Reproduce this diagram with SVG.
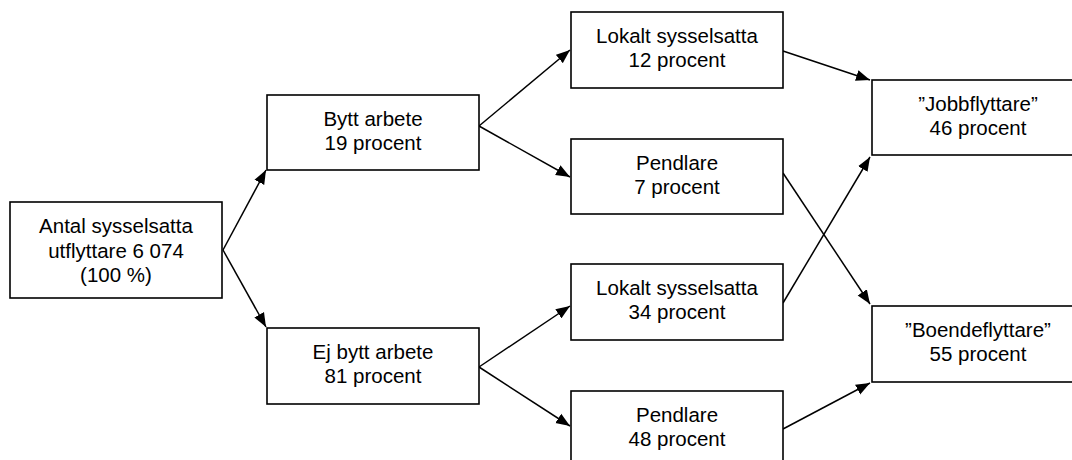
<svg xmlns="http://www.w3.org/2000/svg" width="1072" height="460" viewBox="0 0 1072 460">
<style>
.box{fill:#fff;stroke:#000;stroke-width:1.6}
.t{font-family:"Liberation Sans",Arial,sans-serif;font-size:20.5px;fill:#000;text-anchor:middle}
.c{stroke:#000;stroke-width:1.5;fill:none;marker-end:url(#ah)}
</style>
<defs>
<marker id="ah" markerUnits="userSpaceOnUse" markerWidth="15" markerHeight="12" refX="14" refY="6" orient="auto">
<path d="M0,0.5 L14,6 L0,11.5 z" fill="#000"/>
</marker>
</defs>
<rect width="1072" height="460" fill="#fff"/>
<g id="connectors">
<line class="c" x1="223" y1="250" x2="266" y2="170"/>
<line class="c" x1="223" y1="250" x2="266" y2="327"/>
<line class="c" x1="479" y1="126" x2="570" y2="50"/>
<line class="c" x1="479" y1="126" x2="570" y2="177"/>
<line class="c" x1="479" y1="367" x2="570" y2="306"/>
<line class="c" x1="479" y1="367" x2="570" y2="426"/>
<line class="c" x1="783" y1="51" x2="870" y2="80"/>
<line class="c" x1="783" y1="173" x2="870" y2="304"/>
<line class="c" x1="783" y1="303" x2="870" y2="157"/>
<line class="c" x1="783" y1="429" x2="870" y2="383"/>
</g>
<g id="n_total">
<rect class="box" x="10" y="202" width="212" height="96"/>
<text class="t" x="116" y="233">Antal sysselsatta</text>
<text class="t" x="116" y="257.5">utflyttare 6 074</text>
<text class="t" x="116" y="282">(100 %)</text>
</g>
<g id="n_bytt">
<rect class="box" x="267" y="95" width="212" height="75"/>
<text class="t" x="373" y="125.5">Bytt arbete</text>
<text class="t" x="373" y="150">19 procent</text>
</g>
<g id="n_ejbytt">
<rect class="box" x="267" y="328" width="212" height="76"/>
<text class="t" x="373" y="358.5">Ej bytt arbete</text>
<text class="t" x="373" y="383">81 procent</text>
</g>
<g id="n_lokalt12">
<rect class="box" x="571" y="12" width="212" height="76"/>
<text class="t" x="677" y="42.5">Lokalt sysselsatta</text>
<text class="t" x="677" y="67">12 procent</text>
</g>
<g id="n_pendlare7">
<rect class="box" x="571" y="139" width="212" height="75"/>
<text class="t" x="677" y="169.5">Pendlare</text>
<text class="t" x="677" y="194">7 procent</text>
</g>
<g id="n_lokalt34">
<rect class="box" x="571" y="264" width="212" height="76"/>
<text class="t" x="677" y="294.5">Lokalt sysselsatta</text>
<text class="t" x="677" y="319">34 procent</text>
</g>
<g id="n_pendlare48">
<rect class="box" x="571" y="391" width="212" height="76"/>
<text class="t" x="677" y="421.5">Pendlare</text>
<text class="t" x="677" y="446">48 procent</text>
</g>
<g id="n_jobb">
<rect class="box" x="872" y="80" width="212" height="75"/>
<text class="t" x="978" y="110.5">”Jobbflyttare”</text>
<text class="t" x="978" y="135">46 procent</text>
</g>
<g id="n_boende">
<rect class="box" x="872" y="306" width="212" height="76"/>
<text class="t" x="978" y="336.5">”Boendeflyttare”</text>
<text class="t" x="978" y="361">55 procent</text>
</g>
</svg>
